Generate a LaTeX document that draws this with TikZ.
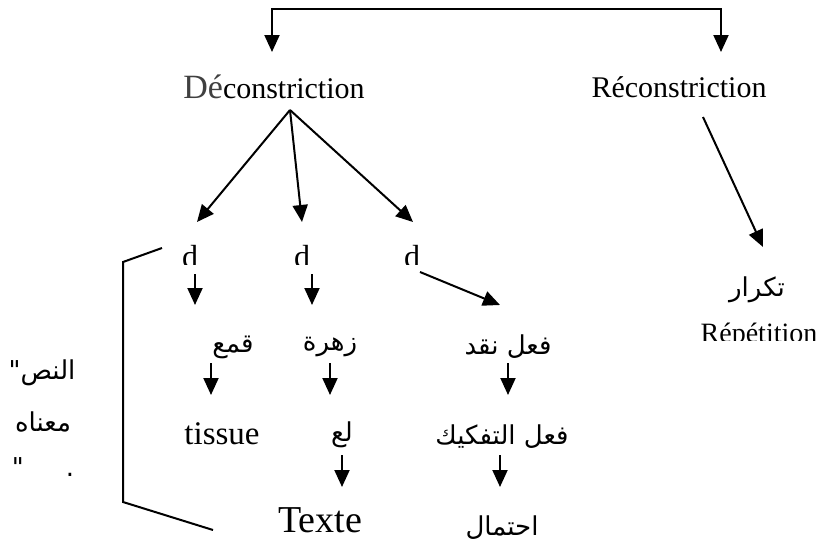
\documentclass[tikz,border=0pt]{standalone}
\usepackage{tikz}
\usetikzlibrary{arrows.meta}
\usepackage{fontspec}
\setmainfont{Liberation Serif}
\newfontfamily\arabicfont[Script=Arabic]{DejaVu Sans}
\TeXXeTstate=1
\usepackage{xcolor}
\tikzset{
        tip/.tip={Triangle[length=8.5pt,width=7.5pt]},
        arr/.style={-tip, line width=1pt},
        lat/.style={inner sep=0pt, font=\fontsize{15}{18}\selectfont},
        arb/.style={inner sep=0pt, font=\arabicfont\fontsize{13}{15}\selectfont}
}
\begin{document}
\begin{tikzpicture}[x=0.5pt,y=-0.5pt]
        \useasboundingbox (0,0) rectangle (821,541);

        \node[lat] (dec) at (274,87) {{\fontsize{17}{18}\selectfont\color{black!75}Dé}constriction};
        \node[lat] (rec) at (679,87) {Réconstriction};

        \begin{scope}
                \clip (150,230) rectangle (450,264);
                \node[lat, font=\fontsize{16}{18}\selectfont] (d1) at (190,257) {d};
                \node[lat, font=\fontsize{16}{18}\selectfont] (d2) at (302,257) {d};
                \node[lat, font=\fontsize{16}{18}\selectfont] (d3) at (412,257) {d};
        \end{scope}

        \node[arb] (qm) at (233,347) {\beginR قمع\endR};
        \node[arb] (zh) at (330,347) {\beginR زهرة\endR};
        \node[arb] (fn) at (508,347) {\beginR فعل نقد\endR};

        \node[lat, font=\fontsize{16.5}{18}\selectfont] (ts) at (222,434) {tissue};
        \node[arb] (lb) at (342,435) {\beginR لع\endR};
        \node[arb] (tf) at (502,437) {\beginR فعل التفكيك\endR};

        \node[lat, font=\fontsize{19}{22}\selectfont] (tx) at (320,520) {Texte};
        \begin{scope}
                \clip (430,500) rectangle (580,538);
                \node[arb] (ih) at (502,528) {\beginR احتمال\endR};
        \end{scope}

        \node[arb] (tk) at (757,290) {\beginR تكرار\endR};
        \begin{scope}
                \clip (690,300) rectangle (821,340);
                \node[lat, font=\fontsize{14}{16}\selectfont] (rp) at (759,336) {Répétition};
        \end{scope}

        \node[arb] (n1) at (42,373) {\beginR النص"\endR};
        \node[arb] (n2) at (43,422) {\beginR معناه\endR};
        \node[arb] (n3) at (43,467) {\beginR .\hspace{21pt}"\endR};

        \coordinate (bar) at (496,9);
        \draw[tip-tip, line width=1pt]
                ([xshift=-1pt,yshift=17.5pt]dec.center) |- (bar) -| ([xshift=21pt,yshift=17.5pt]rec.center);

        \coordinate (fan) at ([xshift=8pt,yshift=-11.5pt]dec.center);
        \draw[arr] (fan) -- ([xshift=3.5pt,yshift=17.5pt]d1.center);
        \draw[arr] (fan) -- ([yshift=17.5pt]d2.center);
        \draw[arr] (fan) -- ([xshift=0.5pt,yshift=17.5pt]d3.center);

        \draw[arr] ([xshift=2.5pt,yshift=-8.5pt]d1.center) -- ([xshift=-19pt,yshift=21pt]qm.center);
        \draw[arr] ([xshift=5pt,yshift=-8.5pt]d2.center) -- ([xshift=-9pt,yshift=21pt]zh.center);
        \draw[arr] ([xshift=4pt,yshift=-7.5pt]d3.center) -- ([xshift=-4pt,yshift=21pt]fn.center);

        \draw[arr] ([xshift=-11pt,yshift=-8pt]qm.center) -- ([xshift=-5.5pt,yshift=19.5pt]ts.center);
        \draw[arr] ([yshift=-8pt]zh.center) -- ([xshift=-6pt,yshift=20pt]lb.center);
        \draw[arr] ([yshift=-8pt]fn.center) -- ([xshift=3pt,yshift=21pt]tf.center);

        \draw[arr] ([yshift=-10pt]lb.center) -- ([xshift=11pt,yshift=16.5pt]tx.center);
        \draw[arr] ([xshift=-1pt,yshift=-9pt]tf.center) -- ([xshift=-1pt,yshift=20.5pt]ih.center);

        \draw[arr] ([xshift=12pt,yshift=-15pt]rec.center) -- ([xshift=3pt,yshift=21.5pt]tk.center);

        \draw[line width=1pt] (162,248) -- (123,262) -- (123,502) -- (213,530);
\end{tikzpicture}
\end{document}
